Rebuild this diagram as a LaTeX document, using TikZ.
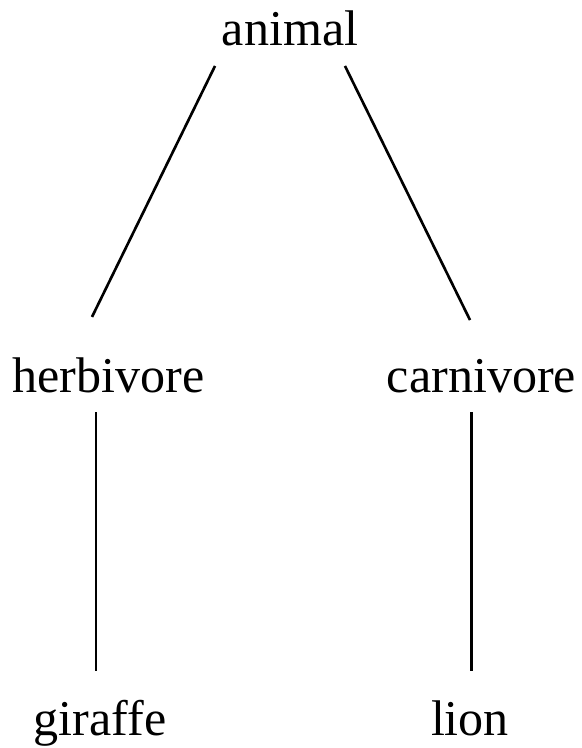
\documentclass[tikz,border=0pt]{standalone}
\usepackage{fontspec}
\setmainfont{Liberation Serif}
\begin{document}
\begin{tikzpicture}[line width=1.5pt]
    \tikzset{word/.style={anchor=base, inner sep=0pt, font=\fontsize{28.5}{34}\selectfont}}
    \useasboundingbox (0,0) rectangle (11.62,14.96);
    % Words
    \node[word] (animal) at (5.8,14.04) {animal};
    \node[word] (herbivore) at (2.17,7.1) {herbivore};
    \node[word] (carnivore) at (9.63,7.1) {carnivore};
    \node[word] (giraffe) at (2.0,0.26) {giraffe};
    \node[word] (lion) at (9.4,0.26) {lion};
    
    % Branches
    \draw ([shift={(-1.5,-0.4)}]animal.base) -- ([shift={(-0.33,0.8)}]herbivore.north);
    \draw ([shift={(1.1,-0.4)}]animal.base) -- ([shift={(-0.23,0.77)}]carnivore.north);
    \draw ([shift={(-0.25,-0.35)}]herbivore.south) -- ([shift={(-0.25,0.55)}]herbivore.south |- giraffe.north);
    \draw ([shift={(-0.2,-0.35)}]carnivore.south) -- ([shift={(-0.2,0.55)}]carnivore.south |- lion.north);
\end{tikzpicture}
\end{document}
